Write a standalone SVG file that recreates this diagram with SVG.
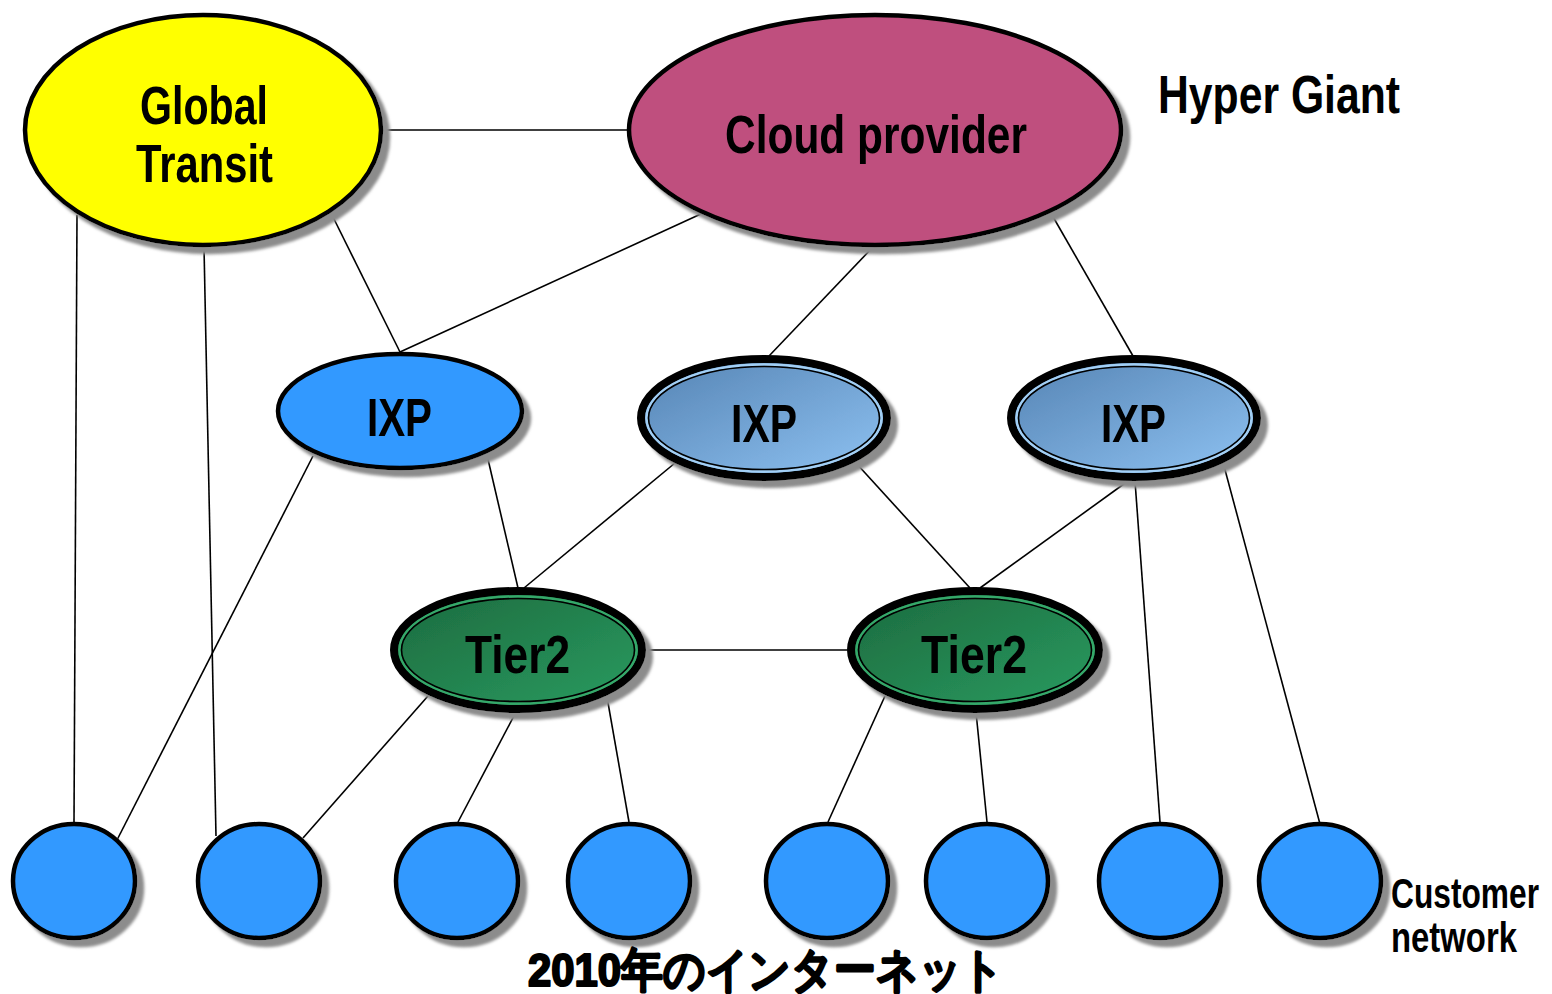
<svg xmlns="http://www.w3.org/2000/svg" width="1552" height="994" viewBox="0 0 1552 994">
  <defs>
    <filter id="shadow" x="-10%" y="-10%" width="125%" height="130%">
      <feGaussianBlur in="SourceAlpha" stdDeviation="1.5" result="b"/>
      <feOffset in="b" dx="7" dy="7" result="o"/>
      <feFlood flood-color="#8c8c8c"/>
      <feComposite in2="o" operator="in" result="s"/>
      <feMerge>
        <feMergeNode in="s"/>
        <feMergeNode in="SourceGraphic"/>
      </feMerge>
    </filter>
    <linearGradient id="ixpFill" x1="0" y1="0" x2="1" y2="1">
      <stop offset="0" stop-color="#5583b3"/>
      <stop offset="1" stop-color="#8fc3f3"/>
    </linearGradient>
    <linearGradient id="tierFill" x1="0" y1="0" x2="1" y2="1">
      <stop offset="0" stop-color="#1c6a3e"/>
      <stop offset="1" stop-color="#2a9c61"/>
    </linearGradient>
  </defs>
  <style>
    .edge { stroke: #000; stroke-width: 1.6; fill: none; }
    .plain { stroke: #000; stroke-width: 4.5; }
    .outer { stroke: #000; stroke-width: 8; }
    .inner { fill: none; stroke: #000; stroke-width: 1.6; }
    .gapIxp { fill: none; stroke: #a2cff5; stroke-width: 2.5; }
    .gapTier { fill: none; stroke: #36a86a; stroke-width: 2.5; }
    .cust { fill: #3399ff; stroke: #000; stroke-width: 4.5; }
    text { font-family: "Liberation Sans", Arial, sans-serif; font-weight: bold; fill: #000; }
    .lbl { font-size: 54px; text-anchor: middle; }
  </style>

  <rect width="1552" height="994" fill="#fff"/>

  <!-- links between networks -->
  <g id="connectors">
    <line class="edge" x1="383" y1="130" x2="627" y2="130"/>
    <line class="edge" x1="77" y1="215" x2="74" y2="822"/>
    <line class="edge" x1="204" y1="247" x2="216" y2="836"/>
    <line class="edge" x1="332" y1="215" x2="400" y2="352"/>
    <line class="edge" x1="703" y1="213" x2="400" y2="352"/>
    <line class="edge" x1="873" y1="247" x2="769" y2="356"/>
    <line class="edge" x1="1052" y1="215" x2="1133" y2="356"/>
    <line class="edge" x1="313" y1="456" x2="117" y2="840"/>
    <line class="edge" x1="487" y1="455" x2="518" y2="588"/>
    <line class="edge" x1="675" y1="463" x2="524" y2="588"/>
    <line class="edge" x1="856" y1="463" x2="970" y2="588"/>
    <line class="edge" x1="1128" y1="481" x2="980" y2="588"/>
    <line class="edge" x1="1135" y1="481" x2="1160" y2="822"/>
    <line class="edge" x1="1224" y1="466" x2="1320" y2="824"/>
    <line class="edge" x1="645" y1="650" x2="847" y2="650"/>
    <line class="edge" x1="428" y1="696" x2="303" y2="838"/>
    <line class="edge" x1="516" y1="712" x2="458" y2="822"/>
    <line class="edge" x1="607" y1="697" x2="629" y2="822"/>
    <line class="edge" x1="885" y1="696" x2="828" y2="822"/>
    <line class="edge" x1="976" y1="712" x2="987" y2="822"/>
  </g>

  <g id="global-transit" filter="url(#shadow)">
    <ellipse class="plain" cx="203" cy="130" rx="178" ry="115" fill="#ffff00"/>
    <text class="lbl" x="204" y="124" textLength="128" lengthAdjust="spacingAndGlyphs">Global</text>
    <text class="lbl" x="204.5" y="182" textLength="137" lengthAdjust="spacingAndGlyphs">Transit</text>
  </g>

  <g id="cloud-provider" filter="url(#shadow)">
    <ellipse class="plain" cx="875" cy="130" rx="246" ry="115" fill="#bf4f7e"/>
    <text class="lbl" x="876" y="153" textLength="302" lengthAdjust="spacingAndGlyphs">Cloud provider</text>
  </g>

  <g id="hyper-giant-label">
    <text x="1158" y="113" font-size="53" textLength="242" lengthAdjust="spacingAndGlyphs">Hyper Giant</text>
  </g>

  <g id="ixp-1" filter="url(#shadow)">
    <ellipse class="plain" cx="400" cy="411" rx="122" ry="57" fill="#3399ff"/>
    <text class="lbl" x="399.5" y="436" font-size="55" textLength="65" lengthAdjust="spacingAndGlyphs">IXP</text>
  </g>

  <g id="ixp-2" filter="url(#shadow)">
    <ellipse class="outer" cx="764" cy="418" rx="123" ry="59" fill="url(#ixpFill)"/>
    <ellipse class="gapIxp" cx="764" cy="418" rx="117.5" ry="53.5"/>
    <ellipse class="inner" cx="764" cy="418" rx="115.5" ry="51.5"/>
    <text class="lbl" x="764" y="442" font-size="55" textLength="66" lengthAdjust="spacingAndGlyphs">IXP</text>
  </g>

  <g id="ixp-3" filter="url(#shadow)">
    <ellipse class="outer" cx="1134" cy="418" rx="123" ry="59" fill="url(#ixpFill)"/>
    <ellipse class="gapIxp" cx="1134" cy="418" rx="117.5" ry="53.5"/>
    <ellipse class="inner" cx="1134" cy="418" rx="115.5" ry="51.5"/>
    <text class="lbl" x="1133.5" y="442" font-size="55" textLength="65" lengthAdjust="spacingAndGlyphs">IXP</text>
  </g>

  <g id="tier2-left" filter="url(#shadow)">
    <ellipse class="outer" cx="518" cy="650" rx="124" ry="59" fill="url(#tierFill)"/>
    <ellipse class="gapTier" cx="518" cy="650" rx="118.5" ry="53.5"/>
    <ellipse class="inner" cx="518" cy="650" rx="116.5" ry="51.5"/>
    <text class="lbl" x="517.5" y="673" font-size="54" textLength="105" lengthAdjust="spacingAndGlyphs">Tier2</text>
  </g>

  <g id="tier2-right" filter="url(#shadow)">
    <ellipse class="outer" cx="975" cy="650" rx="124" ry="59" fill="url(#tierFill)"/>
    <ellipse class="gapTier" cx="975" cy="650" rx="118.5" ry="53.5"/>
    <ellipse class="inner" cx="975" cy="650" rx="116.5" ry="51.5"/>
    <text class="lbl" x="974" y="673" font-size="54" textLength="106" lengthAdjust="spacingAndGlyphs">Tier2</text>
  </g>

  <g id="customer-1" filter="url(#shadow)"><ellipse class="cust" cx="74" cy="881" rx="61" ry="57"/></g>
  <g id="customer-2" filter="url(#shadow)"><ellipse class="cust" cx="259" cy="881" rx="61" ry="57"/></g>
  <g id="customer-3" filter="url(#shadow)"><ellipse class="cust" cx="457" cy="881" rx="61" ry="57"/></g>
  <g id="customer-4" filter="url(#shadow)"><ellipse class="cust" cx="629" cy="881" rx="61" ry="57"/></g>
  <g id="customer-5" filter="url(#shadow)"><ellipse class="cust" cx="827" cy="881" rx="61" ry="57"/></g>
  <g id="customer-6" filter="url(#shadow)"><ellipse class="cust" cx="987" cy="881" rx="61" ry="57"/></g>
  <g id="customer-7" filter="url(#shadow)"><ellipse class="cust" cx="1160" cy="881" rx="61" ry="57"/></g>
  <g id="customer-8" filter="url(#shadow)"><ellipse class="cust" cx="1320" cy="881" rx="61" ry="57"/></g>

  <g id="customer-label">
    <text x="1391" y="908" font-size="42" textLength="148" lengthAdjust="spacingAndGlyphs">Customer</text>
    <text x="1391" y="952" font-size="42" textLength="126" lengthAdjust="spacingAndGlyphs">network</text>
  </g>

  <g id="title">
    <text x="766" y="986" font-size="47" text-anchor="middle" font-family="'Noto Sans CJK JP', 'Liberation Sans', sans-serif" font-weight="900" stroke="#000" stroke-width="2.2" stroke-linejoin="round" textLength="476" lengthAdjust="spacingAndGlyphs">2010年のインターネット</text>
  </g>
</svg>
